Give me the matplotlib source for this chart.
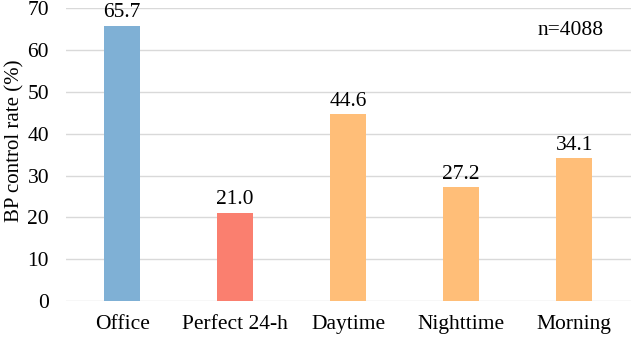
import matplotlib
matplotlib.use('Agg')
import matplotlib.pyplot as plt

categories = ['Office', 'Perfect 24-h', 'Daytime', 'Nighttime', 'Morning']
rates = [65.7, 21.0, 44.6, 27.2, 34.1]
colors = ['#7FB0D5', '#FA7F6F', '#FFBE78', '#FFBE78', '#FFBE78']

plt.rcParams['font.family'] = ['Liberation Serif', 'DejaVu Serif']
fs = 15.5

fig = plt.figure(figsize=(6.32, 3.38), dpi=100)
ax = fig.add_axes([0.104, 0.109, 0.894, 0.867])

x = range(len(categories))
bars = ax.bar(x, rates, width=0.32, color=colors, zorder=2)
for xi, v in zip(x, rates):
    ax.text(xi, v + 0.9, '%.1f' % v, ha='center', va='bottom', fontsize=fs)

ax.set_xlim(-0.5, len(categories) - 0.5)
ax.set_ylim(0, 70)
ax.set_yticks(range(0, 71, 10))
ax.set_xticks(list(x))
ax.set_xticklabels(categories)
ax.tick_params(axis='both', length=0, labelsize=fs)
ax.tick_params(axis='x', pad=10)
ax.tick_params(axis='y', pad=12)
ax.grid(axis='y', color='#D9D9D9', linewidth=1, zorder=0)
for s in ax.spines.values():
    s.set_visible(False)
ax.set_ylabel('BP control rate (%)', fontsize=15)
ax.yaxis.set_label_coords(-0.073, 0.546)
ax.text(3.97, 64.7, 'n=4088', ha='center', va='center', fontsize=fs)

fig.savefig('out.png', dpi=100)
